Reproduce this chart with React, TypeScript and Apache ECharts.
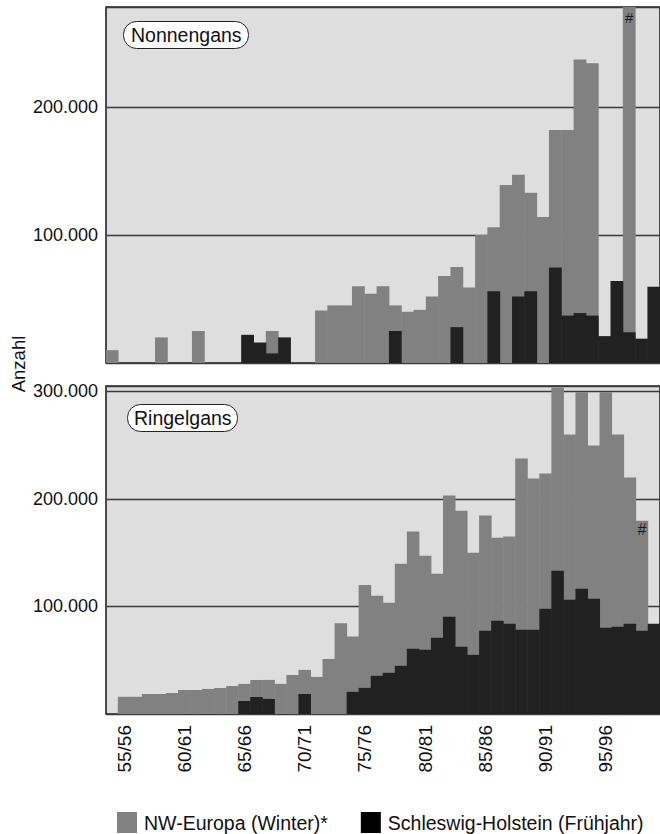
import React, { useEffect, useRef } from "react";
import * as echarts from "echarts";

// Seasons (winter x/x+1)
const seasons: string[] = [
  "55/56", "56/57", "57/58", "58/59", "59/60", "60/61", "61/62", "62/63", "63/64", "64/65",
  "65/66", "66/67", "67/68", "68/69", "69/70", "70/71", "71/72", "72/73", "73/74", "74/75",
  "75/76", "76/77", "77/78", "78/79", "79/80", "80/81", "81/82", "82/83", "83/84", "84/85",
  "85/86", "86/87", "87/88", "88/89", "89/90", "90/91", "91/92", "92/93", "93/94", "94/95",
  "95/96", "96/97", "97/98", "98/99", "99/00",
];

// Nonnengans (top panel)
const nonnenNW: (number | null)[] = [
  10000, null, null, null, 20000, null, null, 25000, null, null,
  null, null, null, 25000, null, null, null, 41000, 45000, 45000,
  60000, 54000, 60000, 45000, 40000, 41500, 52000, 68000, 75000, 59000,
  100000, 106000, 139000, 147000, 133000, 114000, 182000, 182000, 237000, 234000,
  null, null, 278000, null, null,
];
const nonnenSH: (number | null)[] = [
  null, null, null, null, null, null, null, null, null, null,
  null, 22000, 16000, 7500, 20000, null, null, null, null, null,
  null, null, null, 25000, null, null, null, null, 28000, null,
  null, 56000, null, 52000, 56000, null, 74500, 37000, 39000, 37000,
  21000, 64000, 24000, 19000, 59500,
];
const nonnenHashIndex = 42; // bar runs off the top of the panel

// Ringelgans (bottom panel)
const ringelNW: (number | null)[] = [
  16000, 16000, 18500, 18500, 19500, 22300, 22300, 23300, 24200, 26000,
  28000, 31700, 31700, 28000, 36300, 41000, 34500, 51200, 84400, 72000,
  120000, 110000, 103400, 139800, 169600, 147200, 130400, 203100, 189100, 150000,
  184500, 164000, 165000, 237500, 218900, 223600, 303600, 259900, 299300, 249600,
  299300, 259900, 219800, 179800, null,
];
const ringelSH: (number | null)[] = [
  null, null, null, null, null, null, null, null, null, null,
  12100, 15800, 14000, null, null, 18600, null, null, null, 20600,
  24300, 35500, 38300, 44800, 60600, 59700, 70900, 90400, 62500, 55000,
  77400, 86700, 83900, 78300, 78300, 97900, 133200, 106200, 116500, 107200,
  80200, 81100, 83900, 77400, 83900,
];
const ringelHashIndex = 43;

const yTicksTop = [100000, 200000];
const yTicksBottom = [100000, 200000, 300000];

const NW_NAME = "NW-Europa (Winter)*";
const SH_NAME = "Schleswig-Holstein (Frühjahr)";

const FONT = "'Liberation Sans', Arial, Helvetica, sans-serif";
const GRAY = "#818181";
const BLACK = "#212121";
const BG = "#dedede";

const fmt = (v: number) => String(v).replace(/\B(?=(\d{3})+(?!\d))/g, ".");

export default function App() {
  const ref = useRef<HTMLDivElement>(null);

  useEffect(() => {
    if (!ref.current) return;
    const chart = echarts.init(ref.current, undefined, { renderer: "svg" });

    const hashLabel = (size: number, dist: number) => ({
      show: true,
      position: "insideTop",
      formatter: "#",
      distance: dist,
      fontSize: size,
      fontFamily: FONT,
      color: "#1a1a1a",
    });

    const topGrayData = nonnenNW.map((v, i) =>
      i === nonnenHashIndex ? { value: v, label: hashLabel(15, 3) } : v
    );
    const bottomGrayData = [null, ...ringelNW.map((v, i) =>
      i === ringelHashIndex ? { value: v, label: hashLabel(16, 1) } : v
    )];
    const bottomBlackData = [null, ...ringelSH];

    const yLabel = (ticks: number[]) => ({
      fontSize: 18,
      fontFamily: FONT,
      color: "#111",
      margin: 8,
      showMaxLabel: false,
      formatter: (v: number) => (ticks.includes(v) ? fmt(v) : ""),
    });
    const split = { show: true, lineStyle: { color: "#3a3a3a", width: 1.3 } };

    const BW = "104%";

    const option: any = {
      animation: false,
      backgroundColor: "#ffffff",
      textStyle: { fontFamily: FONT },
      title: [
        {
          text: "Nonnengans",
          left: 123,
          top: 21,
          padding: [4, 7, 4, 8],
          backgroundColor: "#ffffff",
          borderColor: "#222",
          borderWidth: 1,
          borderRadius: 13,
          textStyle: { fontSize: 19.5, fontWeight: "normal", color: "#111", fontFamily: FONT },
        },
        {
          text: "Ringelgans",
          left: 127,
          top: 404,
          padding: [4, 6, 4, 7],
          backgroundColor: "#ffffff",
          borderColor: "#222",
          borderWidth: 1,
          borderRadius: 13,
          textStyle: { fontSize: 19.5, fontWeight: "normal", color: "#111", fontFamily: FONT },
        },
      ],
      legend: {
        left: 112,
        top: 807,
        icon: "rect",
        itemWidth: 20,
        itemHeight: 21,
        itemGap: 33,
        textStyle: { fontSize: 19.5, color: "#111", fontFamily: FONT, padding: [2, 0, 0, 2] },
        data: [
          { name: NW_NAME, itemStyle: { color: GRAY } },
          { name: SH_NAME, itemStyle: { color: "#000" } },
        ],
      },
      grid: [
        {
          left: 106, top: 7, width: 554, height: 356,
          show: true, backgroundColor: BG, borderColor: "#222", borderWidth: 1.6,
        },
        {
          left: 106, top: 386, width: 554, height: 328,
          show: true, backgroundColor: BG, borderColor: "#222", borderWidth: 1.6,
        },
      ],
      xAxis: [
        {
          type: "category", gridIndex: 0, data: seasons,
          axisLine: { show: false }, axisTick: { show: false }, axisLabel: { show: false },
        },
        {
          type: "category", gridIndex: 1, data: ["", ...seasons],
          axisLine: { show: false }, axisTick: { show: false },
          axisLabel: {
            rotate: 90,
            fontSize: 19,
            fontFamily: FONT,
            color: "#111",
            margin: 11,
            interval: (i: number) => i >= 1 && (i - 1) % 5 === 0 && i <= 41,
          },
        },
      ],
      yAxis: [
        {
          type: "value", gridIndex: 0, min: 0, max: 278000, interval: 100000,
          axisLine: { show: false }, axisTick: { show: false },
          axisLabel: yLabel(yTicksTop), splitLine: split,
        },
        {
          type: "value", gridIndex: 1, min: 0, max: 305000, interval: 100000,
          axisLine: { show: false }, axisTick: { show: false },
          axisLabel: yLabel(yTicksBottom), splitLine: split,
        },
      ],
      graphic: [
        {
          type: "text",
          x: 9,
          y: 364,
          rotation: Math.PI / 2,
          style: {
            text: "Anzahl",
            fontSize: 18.5,
            fontFamily: FONT,
            fill: "#111",
            align: "center",
            verticalAlign: "top",
          },
        },
      ],
      series: [
        {
          type: "bar", name: NW_NAME, xAxisIndex: 0, yAxisIndex: 0,
          data: topGrayData, barWidth: BW, barGap: "-100%",
          itemStyle: { color: GRAY }, clip: true,
        },
        {
          type: "bar", name: SH_NAME, xAxisIndex: 0, yAxisIndex: 0,
          data: nonnenSH, barWidth: BW, barGap: "-100%",
          itemStyle: { color: BLACK }, clip: true,
        },
        {
          type: "bar", name: NW_NAME, xAxisIndex: 1, yAxisIndex: 1,
          data: bottomGrayData, barWidth: BW, barGap: "-100%",
          itemStyle: { color: GRAY }, clip: true,
        },
        {
          type: "bar", name: SH_NAME, xAxisIndex: 1, yAxisIndex: 1,
          data: bottomBlackData, barWidth: BW, barGap: "-100%",
          itemStyle: { color: BLACK }, clip: true,
        },
      ],
    };

    chart.setOption(option);
    return () => chart.dispose();
  }, []);

  return (
    <div
      ref={ref}
      style={{ position: "absolute", left: 0, top: 0, width: 660, height: 834 }}
    />
  );
}
